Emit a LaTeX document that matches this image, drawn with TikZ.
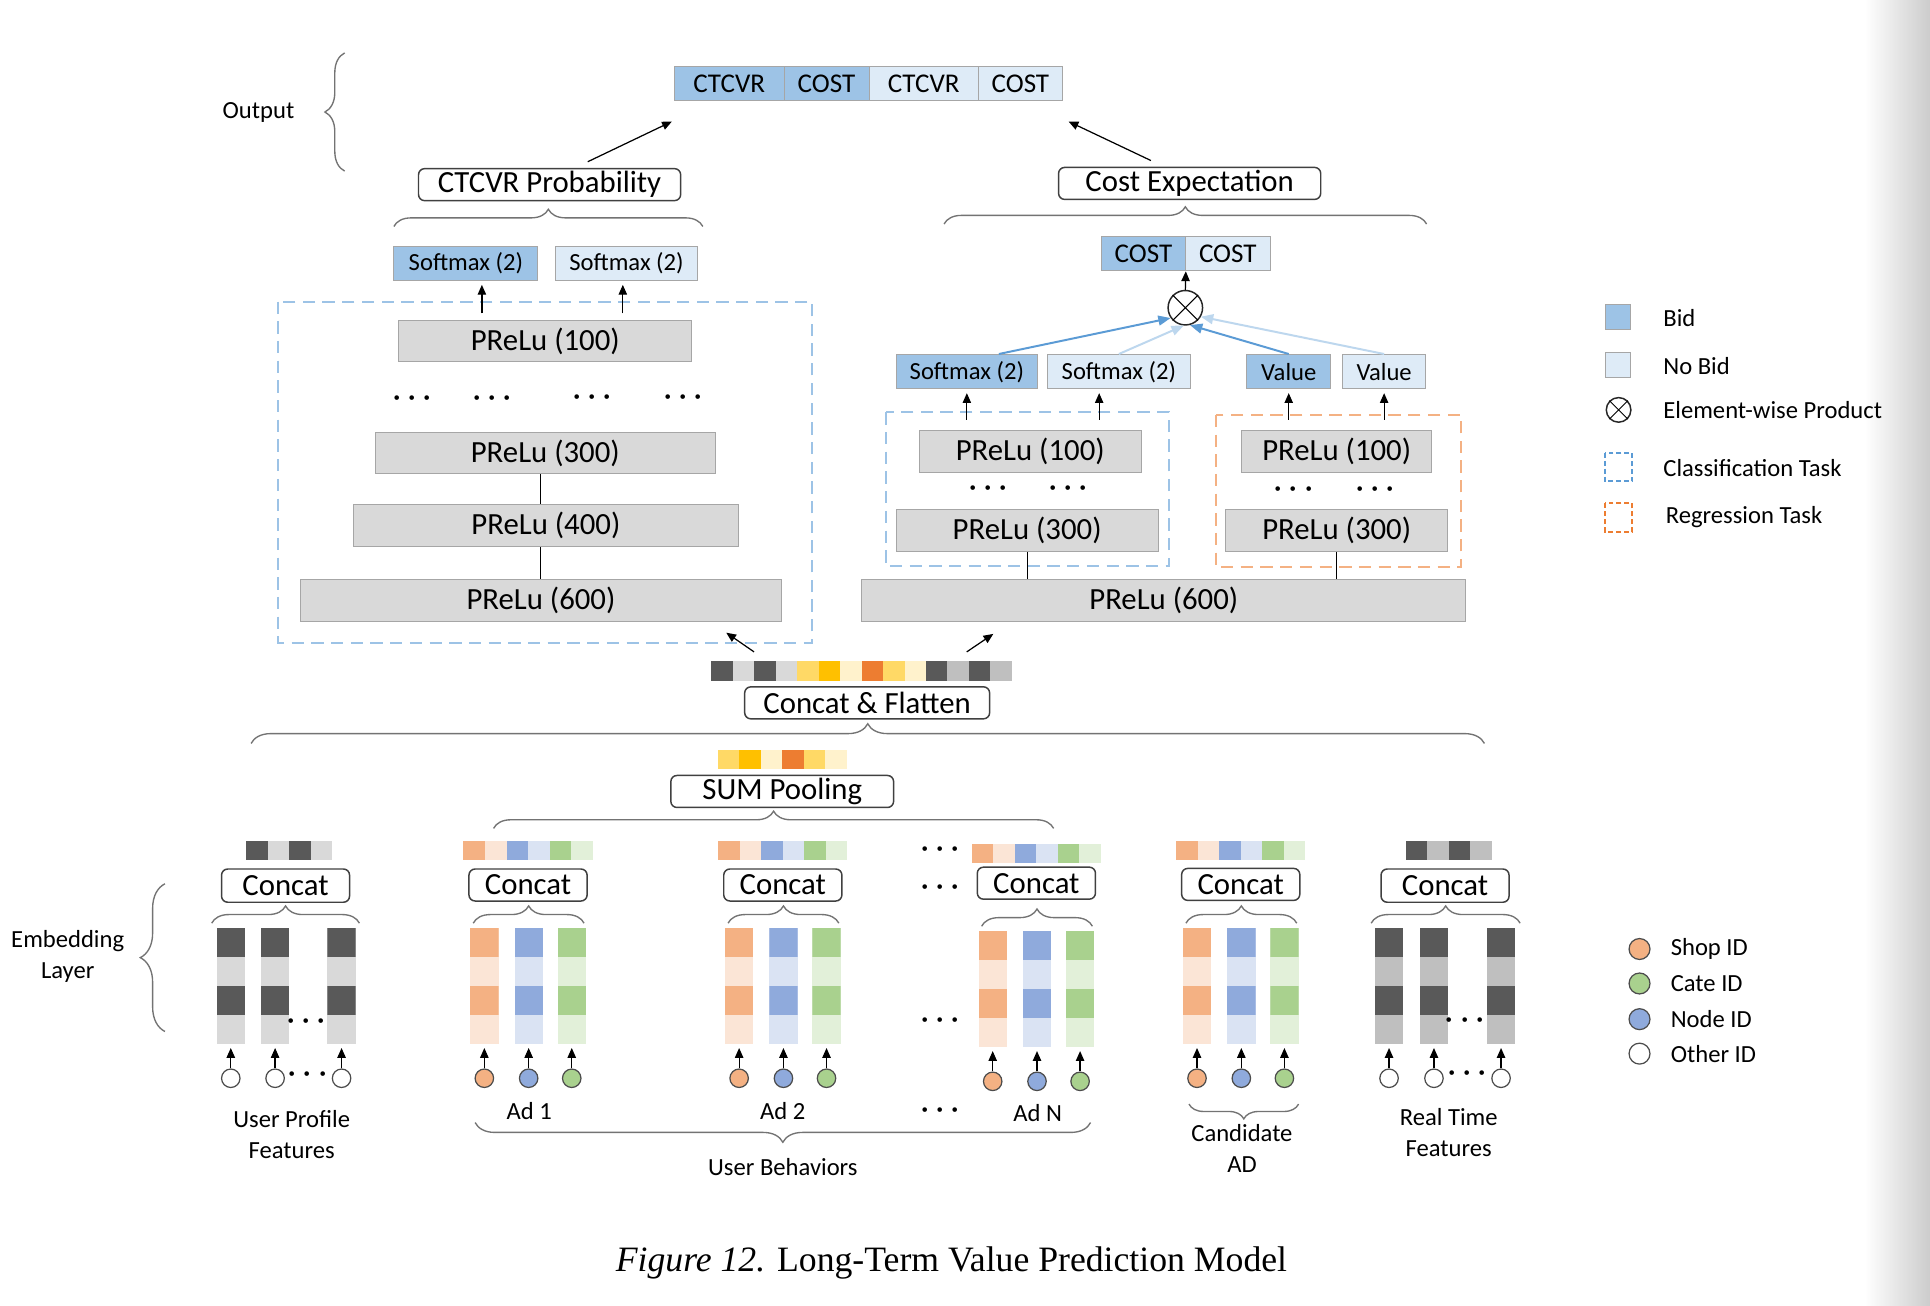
\documentclass[tikz,border=0pt]{standalone}
\usepackage{fontspec}
\setmainfont{Carlito}
\newfontfamily\capserif{Liberation Serif}
\usetikzlibrary{arrows.meta,decorations.pathreplacing,positioning}

\definecolor{bidblue}{HTML}{9DC3E6}
\definecolor{nobid}{HTML}{DEEBF7}
\definecolor{layergray}{HTML}{D9D9D9}
\definecolor{edgegray}{HTML}{A6A6A6}
\definecolor{darkcell}{HTML}{595959}
\definecolor{lightcell}{HTML}{D9D9D9}
\definecolor{midcell}{HTML}{BFBFBF}
\definecolor{shopdark}{HTML}{F4B183}
\definecolor{shoplight}{HTML}{FBE5D6}
\definecolor{nodedark}{HTML}{8FAADC}
\definecolor{nodelight}{HTML}{DAE3F3}
\definecolor{catedark}{HTML}{A9D18E}
\definecolor{catelight}{HTML}{E2F0D9}
\definecolor{yel}{HTML}{FFD966}
\definecolor{gold}{HTML}{FFC000}
\definecolor{paleyel}{HTML}{FFF2CC}
\definecolor{orng}{HTML}{ED7D31}
\definecolor{clsblue}{HTML}{9DC3E6}
\definecolor{regorange}{HTML}{F4B183}
\definecolor{linkdark}{HTML}{5B9BD5}
\definecolor{linklight}{HTML}{BDD7EE}

\newcommand{\fsbig}{\fontsize{12.5}{15}\selectfont}
\newcommand{\fsmid}{\fontsize{11}{13}\selectfont}
\newcommand{\fssmall}{\fontsize{10}{12.5}\selectfont}

% a row of coloured cells: x, top y, cell width, colours
\newcommand{\cellrow}[4]{%
  \foreach \c [count=\i from 0] in {#4}
    \fill[\c] ({#1+\i*#3},#2) rectangle ++(#3,16);}

\tikzset{
  plbox/.style={draw=edgegray, fill=layergray, inner sep=0pt, minimum height=17pt, font=\fsbig},
  barcell/.style={draw=edgegray, inner sep=0pt, minimum height=14pt, font=\fsmid},
  smcell/.style={draw=edgegray, inner sep=0pt, minimum height=14pt, font=\fssmall},
  roundtag/.style={draw=black!75, fill=white, rounded corners=2.5pt, inner sep=0pt, minimum height=13pt, line width=0.6pt, font=\fsbig},
  arr/.style={-{Triangle[length=4pt,width=3.4pt]}, line width=0.5pt, shorten >=1.5pt},
  prodlink/.style={-{Triangle[length=5pt,width=4pt]}, line width=0.8pt},
  brc/.style={decorate, decoration={brace, amplitude=#1}, draw=black!55, line width=0.55pt},
  brc/.default=7pt,
  clsbox/.style={draw=clsblue, dash pattern=on 5pt off 3pt, line width=0.8pt},
  regbox/.style={draw=regorange, dash pattern=on 5pt off 3pt, line width=0.8pt},
  idcirc/.style={circle, draw=black!70, minimum size=7.5pt, inner sep=0pt, line width=0.5pt},
  prodc/.style={circle, draw=black!85, minimum size=14pt, inner sep=0pt, line width=0.6pt},
  embcol/.style 2 args={minimum width=11.5pt, minimum height=47pt, inner sep=0pt, fill=#2,
    path picture={
      \fill[#1] (path picture bounding box.north west) rectangle ([yshift=-11.75pt]path picture bounding box.north east);
      \fill[#1] ([yshift=-23.5pt]path picture bounding box.north west) rectangle ([yshift=-35.25pt]path picture bounding box.north east);
    }},
  ellip/.style={inner sep=0pt, font=\fontsize{13}{13}\selectfont\boldmath},
  lbl/.style={inner sep=0pt, align=center, font=\fssmall},
  lgd/.style={inner sep=0pt, anchor=west, font=\fssmall},
}

\begin{document}
\begin{tikzpicture}[x=0.5pt, y=-0.5pt]
    \fill[white] (0,0) rectangle (1568,1061);
    \shade[left color=white, right color=black!20] (1515,0) rectangle (1568,1061);
    \useasboundingbox (0,0) rectangle (1568,1061);

    % output
    \node[lbl] (outlbl) at (210,91) {Output};
    \draw[brc=8pt] (280,139) -- (280,43);
    \node[barcell, fill=bidblue, minimum width=44.5pt] (outA) at (592.5,68) {CTCVR};
    \node[barcell, fill=bidblue, minimum width=34.5pt] (outB) at (671.5,68) {COST};
    \node[barcell, fill=nobid, minimum width=44.5pt] (outC) at (750.5,68) {CTCVR};
    \node[barcell, fill=nobid, minimum width=34pt] (outD) at (829,68) {COST};

    \node[roundtag, minimum width=106.5pt] (ctcvrp) at (446.5,150) {CTCVR Probability};
    \node[roundtag, minimum width=106.5pt] (costexp) at (966.5,149) {Cost Expectation};
    \draw[arr] ([shift={(31,-5)}]ctcvrp.north) -- ([shift={(1,15)}]outA.south west);
    \draw[arr] ([shift={(-31.5,-5)}]costexp.north) -- ([shift={(2,15)}]outD.south east);

    \draw[brc] (320,184) -- (571,184);
    \draw[brc] (767,182) -- (1159,182);

    % ctcvr tower
    \node[smcell, fill=bidblue, minimum width=58.5pt] (smA) at (378.5,214) {Softmax (2)};
    \node[smcell, fill=nobid, minimum width=58pt] (smB) at (509,214) {Softmax (2)};
    \draw[clsbox] (226,245) rectangle (660,522);

    \node[plbox, minimum width=119pt] (plA1) at (443,277) {PReLu (100)};
    \node[plbox, minimum width=138pt] (plA3) at (443,368) {PReLu (300)};
    \node[plbox, minimum width=156.5pt] (plA4) at (443.5,427) {PReLu (400)};
    \node[plbox, minimum width=195.5pt] (plA6) at (439.5,488) {PReLu (600)};

    \coordinate (smAin) at ([xshift=6.5pt]smA.south);
    \coordinate (smBin) at ([xshift=-1.5pt]smB.south);
    \draw[arr] ([yshift=2.5pt]plA1.north -| smAin) -- (smAin);
    \draw[arr] ([yshift=2.5pt]plA1.north -| smBin) -- (smBin);

    \node[ellip] (dA1) at (335,324) {$\cdots$};
    \node[ellip] (dA2) at (400,324) {$\cdots$};
    \node[ellip] (dA3) at (481,323) {$\cdots$};
    \node[ellip] (dA4) at (555,323) {$\cdots$};

    \draw (plA3.south -| plA6.north) -- (plA4.north -| plA6.north);
    \draw (plA4.south -| plA6.north) -- (plA6.north);

    % cost tower
    \node[barcell, fill=bidblue, minimum width=34pt] (costA) at (929,206) {COST};
    \node[barcell, fill=nobid, minimum width=34.5pt] (costB) at (997.5,206) {COST};
    \node[prodc] (prod) at (963,250) {};
    \draw (prod.north west) -- (prod.south east) (prod.north east) -- (prod.south west);
    \draw[arr, shorten >=0pt] (prod.north) -- (costA.south east);

    \node[smcell, fill=bidblue, minimum width=57.5pt] (smC) at (785.5,302) {Softmax (2)};
    \node[smcell, fill=nobid, minimum width=58pt] (smD) at (909,302) {Softmax (2)};
    \node[smcell, fill=bidblue, minimum width=34pt] (valA) at (1047,302) {Value};
    \node[smcell, fill=nobid, minimum width=33.5pt] (valB) at (1124.5,302) {Value};

    \draw[prodlink, draw=linklight] (smD.north) -- (prod.265);
    \draw[prodlink, draw=linklight] (valB.north) -- (prod.330);
    \draw[prodlink, draw=linkdark] ([xshift=13pt]smC.north) -- (prod.215);
    \draw[prodlink, draw=linkdark] (valA.north) -- (prod.285);

    \draw[clsbox] (720,335) rectangle (950,460);
    \draw[regbox] (988,337) rectangle (1187,461);

    \node[plbox, minimum width=90pt] (plB1) at (837,366.5) {PReLu (100)};
    \node[plbox, minimum width=106.5pt] (plB3) at (834.5,431) {PReLu (300)};
    \node[plbox, minimum width=77pt] (plC1) at (1086,366.5) {PReLu (100)};
    \node[plbox, minimum width=90pt] (plC3) at (1086,431) {PReLu (300)};
    \node[plbox, minimum width=245.5pt] (plS6) at (945.5,488) {PReLu (600)};

    \coordinate (smDin) at ([xshift=-8pt]smD.south);
    \draw[arr] ([yshift=4pt]plB1.north -| smC.south) -- (smC.south);
    \draw[arr] ([yshift=4pt]plB1.north -| smDin) -- (smDin);
    \draw[arr] ([yshift=4pt]plC1.north -| valA.south) -- (valA.south);
    \draw[arr] ([yshift=4pt]plC1.north -| valB.south) -- (valB.south);

    \node[ellip] (dB1) at (803,397) {$\cdots$};
    \node[ellip] (dB2) at (868,397) {$\cdots$};
    \node[ellip] (dC1) at (1051,398) {$\cdots$};
    \node[ellip] (dC2) at (1117,398) {$\cdots$};

    \draw (plB3.south) -- (plB3.south |- plS6.north);
    \draw (plC3.south) -- (plC3.south |- plS6.north);

    % concat and flatten
    \node[inner sep=0pt, minimum width=122pt, minimum height=8pt] (flat) at (700,545) {};
    \cellrow{578}{537}{17.43}{darkcell,lightcell,darkcell,lightcell,yel,gold,paleyel,orng,yel,paleyel,darkcell,midcell,darkcell,midcell}
    \coordinate (clsin) at (590,514);
    \coordinate (sharein) at (807,515);
    \draw[arr, shorten >=0pt] ([shift={(35,-7)}]flat.north west) -- (clsin);
    \draw[arr, shorten >=0pt] ([shift={(-37,-7)}]flat.north east) -- (sharein);

    \node[roundtag, minimum width=99.5pt] (cflat) at (704.5,571) {Concat \& Flatten};
    \draw[brc=8pt] (204,604) -- (1206,604);

    \cellrow{583}{609}{17.5}{yel,gold,paleyel,orng,yel,paleyel}
    \node[roundtag, minimum width=90.5pt] (sumpool) at (635.5,643) {SUM Pooling};
    \draw[brc] (401,673) -- (856,673);

    % embedding layer
    \node[lbl] (emblbl) at (55,777) {Embedding\\Layer};
    \draw[brc=10pt] (134,838) -- (134,718);

    % user profile
    \cellrow{200}{683}{17.5}{darkcell,lightcell,darkcell,lightcell}
    \node[roundtag, minimum width=52pt, minimum height=13.5pt] (upcat) at (232,719.5) {Concat};
    \draw[brc] (172,750) -- (292,750);
    \node[embcol={darkcell}{lightcell}] (up1) at (187.5,801) {};
    \node[embcol={darkcell}{lightcell}] (up2) at (223.5,801) {};
    \node[embcol={darkcell}{lightcell}] (up3) at (277.5,801) {};
    \node[idcirc, fill=white] (up1id) at (187.5,876) {};
    \node[idcirc, fill=white] (up2id) at (223.5,876) {};
    \node[idcirc, fill=white] (up3id) at (277.5,876) {};
    \draw[arr] (up1id) -- (up1);
    \draw[arr] (up2id) -- (up2);
    \draw[arr] (up3id) -- (up3);
    \node[ellip] (updots) at (249,830) {$\cdots$};
    \node[ellip] (upiddots) at (250,873) {$\cdots$};
    \node[lbl] (uplbl) at (237,922) {User Profile\\Features};

    % ads and candidate ad
    \foreach \g/\x/\y/\cy in {ad1/393.5/801/719, ad2/600.5/801/719, adN/806.5/803.5/717.5, cand/972.5/801/718.5}{
      \cellrow{\x-17}{\y-118}{17.5}{shopdark,shoplight,nodedark,nodelight,catedark,catelight}
      \node[roundtag, minimum width=48pt] (\g-cat) at (\x+35.5,\cy) {Concat};
      \draw[brc] (\x-9,\y-51) -- (\x+81,\y-51);
      \node[embcol={shopdark}{shoplight}] (\g-shop) at (\x,\y) {};
      \node[embcol={nodedark}{nodelight}] (\g-node) at (\x+36,\y) {};
      \node[embcol={catedark}{catelight}] (\g-cate) at (\x+71,\y) {};
      \node[idcirc, fill=shopdark] (\g-shopid) at (\x,\y+75) {};
      \node[idcirc, fill=nodedark] (\g-nodeid) at (\x+36,\y+75) {};
      \node[idcirc, fill=catedark] (\g-cateid) at (\x+71,\y+75) {};
      \draw[arr] (\g-shopid) -- (\g-shop);
      \draw[arr] (\g-nodeid) -- (\g-node);
      \draw[arr] (\g-cateid) -- (\g-cate);
    }
    \node[lbl] (ad1lbl) at (430,903) {Ad 1};
    \node[lbl] (ad2lbl) at (636,903) {Ad 2};
    \node[lbl] (adNlbl) at (843,904) {Ad N};
    \node[ellip] (gap1) at (764,690) {$\cdots$};
    \node[ellip] (gap2) at (764,721) {$\cdots$};
    \node[ellip] (gap3) at (764,829) {$\cdots$};
    \node[ellip] (gap4) at (764,902) {$\cdots$};
    \draw[brc=8pt] (886,912) -- (386,912);
    \node[lbl] (behlbl) at (636,948) {User Behaviors};
    \draw[brc=6pt] (1055,897) -- (966,897);
    \node[lbl] (candlbl) at (1009,933) {Candidate\\AD};

    % real time
    \cellrow{1142}{683}{17.5}{darkcell,midcell,darkcell,midcell}
    \node[roundtag, minimum width=52pt, minimum height=13.5pt] (rtcat) at (1174,719.5) {Concat};
    \draw[brc] (1114,750) -- (1235,750);
    \node[embcol={darkcell}{midcell}] (rt1) at (1128.5,801) {};
    \node[embcol={darkcell}{midcell}] (rt2) at (1165,801) {};
    \node[embcol={darkcell}{midcell}] (rt3) at (1219.5,801) {};
    \node[idcirc, fill=white] (rt1id) at (1128.5,876) {};
    \node[idcirc, fill=white] (rt2id) at (1165,876) {};
    \node[idcirc, fill=white] (rt3id) at (1219.5,876) {};
    \draw[arr] (rt1id) -- (rt1);
    \draw[arr] (rt2id) -- (rt2);
    \draw[arr] (rt3id) -- (rt3);
    \node[ellip] (rtdots) at (1190,829) {$\cdots$};
    \node[ellip] (rtiddots) at (1192,872) {$\cdots$};
    \node[lbl] (rtlbl) at (1177,920) {Real Time\\Features};

    % legend
    \node[draw=edgegray, fill=bidblue, minimum size=10.5pt, inner sep=0pt] (lgbid) at (1314.5,257.5) {};
    \node[lgd] (lgbidt) at (1351,258) {Bid};
    \node[draw=edgegray, fill=nobid, minimum size=10.5pt, inner sep=0pt] (lgno) at (1314.5,296.5) {};
    \node[lgd] (lgnot) at (1351,297) {No Bid};
    \node[prodc, minimum size=10pt] (lgprod) at (1315,333) {};
    \draw (lgprod.north west) -- (lgprod.south east) (lgprod.north east) -- (lgprod.south west);
    \node[lgd] (lgprodt) at (1351,333) {Element-wise Product};
    \draw[draw=linkdark, dash pattern=on 2pt off 1.2pt, line width=0.8pt] (1304,368) rectangle (1326,391);
    \node[lgd] (lgclst) at (1351,380) {Classification Task};
    \draw[draw=orng, dash pattern=on 2pt off 1.2pt, line width=0.8pt] (1304,409) rectangle (1326,432);
    \node[lgd] (lgregt) at (1353,420) {Regression Task};

    \node[idcirc, minimum size=8.5pt, fill=shopdark] (lgshop) at (1332,771) {};
    \node[lgd] (lgshopt) at (1357,771) {Shop ID};
    \node[idcirc, minimum size=8.5pt, fill=catedark] (lgcate) at (1332,799) {};
    \node[lgd] (lgcatet) at (1357,799) {Cate ID};
    \node[idcirc, minimum size=8.5pt, fill=nodedark] (lgnode) at (1332,828) {};
    \node[lgd] (lgnodet) at (1357,828) {Node ID};
    \node[idcirc, minimum size=8.5pt, fill=white] (lgother) at (1332,856) {};
    \node[lgd] (lgothert) at (1357,856) {Other ID};

    % caption
    \node[inner sep=0pt, font=\capserif\fontsize{14.5}{17}\selectfont] (cap) at (773,1026) {\textit{Figure 12.} Long-Term Value Prediction Model};
\end{tikzpicture}
\end{document}
